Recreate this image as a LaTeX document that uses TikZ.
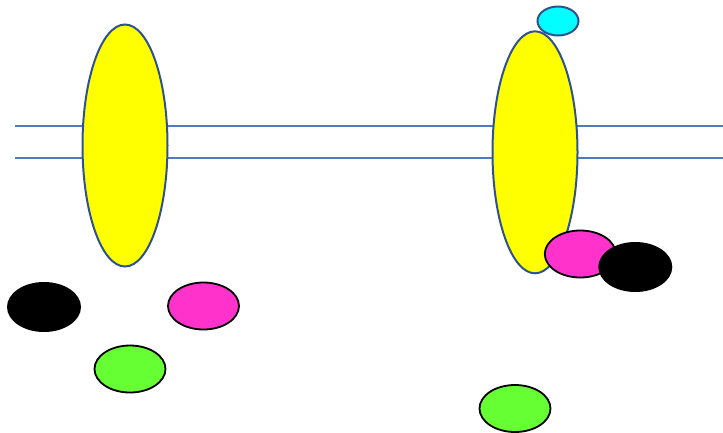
\documentclass[tikz,border=0pt]{standalone}
\usetikzlibrary{shapes.geometric}
\definecolor{membrane}{HTML}{4F79C6}
\definecolor{rimblue}{HTML}{2F528F}
\definecolor{pinkc}{HTML}{FF33CC}
\definecolor{greenc}{HTML}{66FF33}
\definecolor{yellowc}{HTML}{FFFF00}
\definecolor{cyanc}{HTML}{00FFFF}
\tikzset{
  blob/.style={ellipse, inner sep=0pt, outer sep=0pt},
  receptor/.style={blob, fill=yellowc, draw=rimblue, line width=2pt, minimum width=85pt, minimum height=242pt},
  ligand/.style={blob, fill=cyanc, draw=rimblue, line width=2pt, minimum width=41pt, minimum height=29pt},
  pinkprot/.style={blob, fill=pinkc, draw=black, line width=1.8pt, minimum width=71pt, minimum height=47pt},
  greenprot/.style={blob, fill=greenc, draw=black, line width=1.8pt, minimum width=71pt, minimum height=47pt},
  blackprot/.style={blob, fill=black, minimum width=74pt, minimum height=50pt},
  memline/.style={draw=membrane, line width=1.4pt}
}
\begin{document}
\begin{tikzpicture}[x=1pt, y=-1pt]
\useasboundingbox (0,0) rectangle (723,432);
\coordinate (m1a) at (15,126);
\coordinate (m1b) at (723,126);
\coordinate (m2a) at (15,158);
\coordinate (m2b) at (723,158);
\draw[memline] (m1a) -- (m1b);
\draw[memline] (m2a) -- (m2b);
\node[receptor] (recL) at (125,145.5) {};
\node[receptor] (recR) at (535,152.3) {};
\node[ligand] (lig) at (558,21) {};
\node[blackprot] (blkL) at (44,307) {};
\node[pinkprot] (pinkL) at (203.5,306) {};
\node[greenprot] (grnL) at (130,369) {};
\node[pinkprot] (pinkR) at (580.3,254) {};
\node[blackprot] (blkR) at (635.3,267) {};
\node[greenprot] (grnR) at (515,408.5) {};
\end{tikzpicture}
\end{document}
